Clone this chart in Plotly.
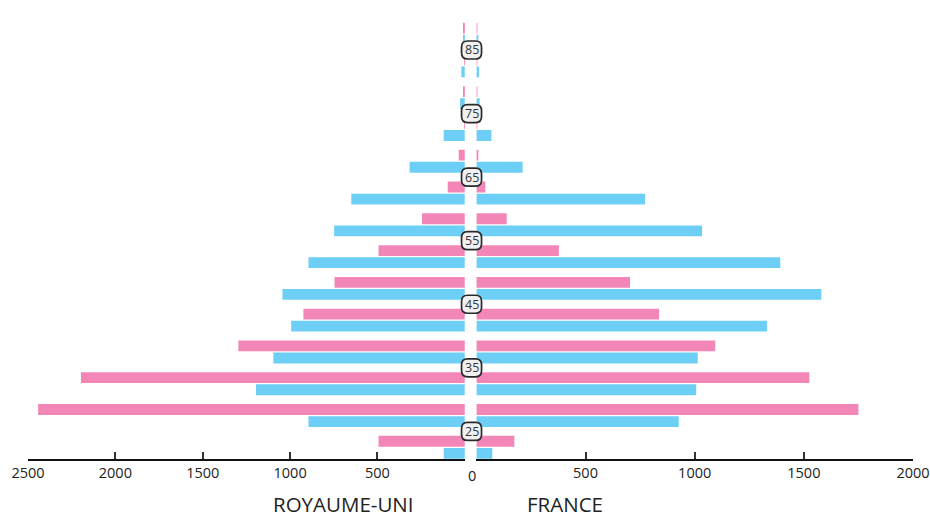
import plotly.graph_objects as go

# ---- data ----
age_start = [20, 25, 30, 35, 40, 45, 50, 55, 60, 65, 70, 75, 80, 85]
uk_pink = [494, 2442, 2197, 1296, 924, 746, 494, 245, 98, 35, 4, 5, 4, 5]
uk_blue = [121, 895, 1195, 1096, 994, 1044, 895, 748, 650, 316, 121, 27, 20, 10]
fr_pink = [174, 1750, 1525, 1094, 837, 704, 378, 139, 41, 8, 3, 3, 3, 3]
fr_blue = [73, 927, 1007, 1014, 1331, 1580, 1392, 1034, 773, 212, 69, 15, 12, 8]
age_labels = [25, 35, 45, 55, 65, 75, 85]
left_ticks = [500, 1000, 1500, 2000, 2500]
right_ticks = [500, 1000, 1500, 2000]
left_title = "ROYAUME-UNI"
right_title = "FRANCE"

PINK = "#F287B7"
BLUE = "#6DCFF6"
FONT = "Open Sans"

W, H = 930, 517
plot_left, plot_right, plot_top, plot_bottom = 28, 913.3, 21, 459
ML, MT = plot_left, plot_top
MR = W - plot_right
MB = H - plot_bottom
PW = plot_right - plot_left
PH = plot_bottom - plot_top
YR = [20.66, 89.56]


def px_x(wx):
    return (wx - plot_left) / PW


def px_y(wy):
    return (plot_bottom - wy) / PH


mid = [a + 2.5 for a in age_start]

fig = go.Figure()
common = dict(orientation="h", width=1.7, marker_line_width=0, hoverinfo="x+y")
fig.add_trace(go.Bar(x=uk_pink, y=mid, offset=0.1, marker_color=PINK,
                     xaxis="x", yaxis="y", name="pink", **common))
fig.add_trace(go.Bar(x=uk_blue, y=mid, offset=-1.8, marker_color=BLUE,
                     xaxis="x", yaxis="y", name="blue", **common))
fig.add_trace(go.Bar(x=fr_pink, y=mid, offset=0.1, marker_color=PINK,
                     xaxis="x2", yaxis="y2", name="pink", **common))
fig.add_trace(go.Bar(x=fr_blue, y=mid, offset=-1.8, marker_color=BLUE,
                     xaxis="x2", yaxis="y2", name="blue", **common))

xl_end = px_x(465)
xr_start = px_x(476.5)
xc = px_x(471.7)

axis_style = dict(showline=True, linecolor="#111", linewidth=1.5,
                  ticks="inside", ticklen=7, tickwidth=1.5, tickcolor="#333",
                  showgrid=False, zeroline=False,
                  tickfont=dict(family=FONT, size=14.5, color="#222"))

fig.update_layout(
    width=W, height=H,
    margin=dict(l=ML, r=MR, t=MT, b=MB, autoexpand=False),
    paper_bgcolor="white", plot_bgcolor="white",
    showlegend=False,
    barmode="overlay",
    xaxis=dict(domain=[0, xl_end], range=[2500, 0], tickvals=left_ticks,
               ticktext=[str(v) for v in left_ticks], **axis_style),
    xaxis2=dict(domain=[xr_start, 1], range=[0, 2000], tickvals=right_ticks,
                ticktext=[str(v) for v in right_ticks], anchor="y2", **axis_style),
    yaxis=dict(range=YR, visible=False),
    yaxis2=dict(range=YR, visible=False, anchor="x2", matches="y"),
)

# rounded label boxes + labels
bw, bh, r = 20, 18, 6
hx = bw / 2 / PW
rx = r / PW
pxy = PH / (YR[1] - YR[0])
hy = bh / 2 / pxy
ry = r / pxy
shapes = []
annotations = []
for a in age_labels:
    x0, x1 = xc - hx, xc + hx
    y0, y1 = a - hy, a + hy
    path = (f"M {x0+rx},{y0} L {x1-rx},{y0} Q {x1},{y0} {x1},{y0+ry} "
            f"L {x1},{y1-ry} Q {x1},{y1} {x1-rx},{y1} L {x0+rx},{y1} "
            f"Q {x0},{y1} {x0},{y1-ry} L {x0},{y0+ry} Q {x0},{y0} {x0+rx},{y0} Z")
    shapes.append(dict(type="path", path=path, xref="paper", yref="y",
                       fillcolor="#F0F0F0", line=dict(color="#2a2a2a", width=1.7),
                       layer="above"))
    annotations.append(dict(x=xc, y=a, xref="paper", yref="y", text=str(a),
                            showarrow=False, xanchor="center", yanchor="middle",
                            font=dict(family=FONT, size=12.5, color="#333")))

annotations.append(dict(x=xc, y=px_y(475), xref="paper", yref="paper",
                        text="0", showarrow=False, xanchor="center", yanchor="middle",
                        font=dict(family=FONT, size=14.5, color="#222")))
annotations.append(dict(x=px_x(344), y=px_y(504), xref="paper", yref="paper",
                        text=left_title, showarrow=False, xanchor="center", yanchor="middle",
                        font=dict(family=FONT, size=20.5, color="#222")))
annotations.append(dict(x=px_x(565), y=px_y(504), xref="paper", yref="paper",
                        text=right_title, showarrow=False, xanchor="center", yanchor="middle",
                        font=dict(family=FONT, size=20.5, color="#222")))

fig.update_layout(shapes=shapes, annotations=annotations)
fig.write_html(
    "out.html",
    config={"displayModeBar": False},
    post_script="document.body.style.margin='0';document.body.style.overflow='hidden';",
)
